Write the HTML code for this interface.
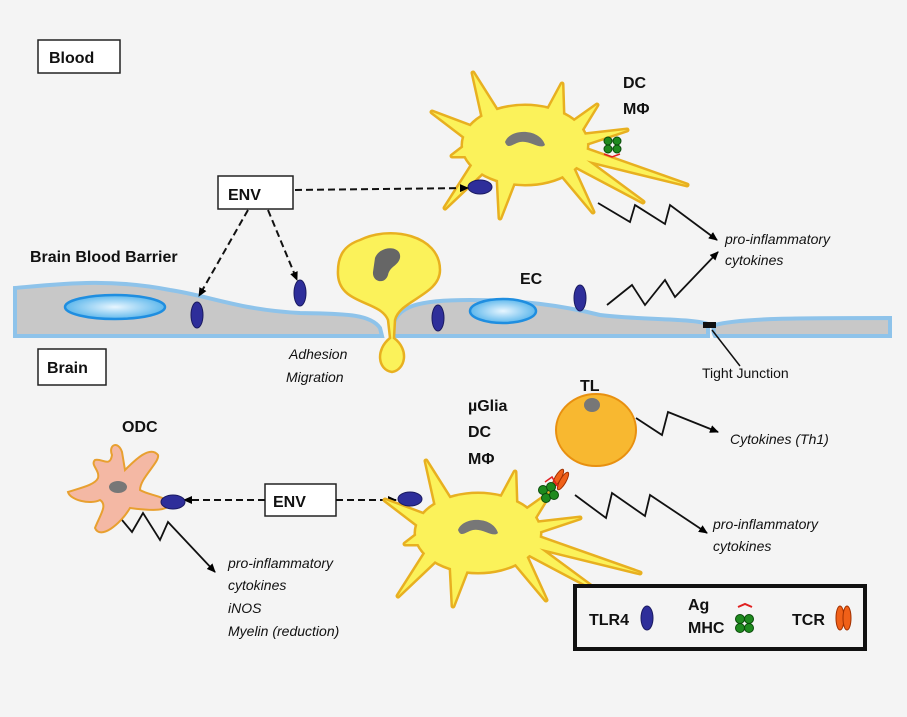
<!DOCTYPE html>
<html><head><meta charset="utf-8"><style>
body{margin:0;background:#f4f4f4}
svg{display:block}
text{font-family:"Liberation Sans",sans-serif;fill:#111}
.b{font-weight:bold;font-size:16px}
.i{font-style:italic;font-size:14px}
</style></head><body>
<svg width="907" height="717" viewBox="0 0 907 717" xmlns="http://www.w3.org/2000/svg">
<defs>
<marker id="a" markerWidth="10" markerHeight="10" refX="8" refY="5" orient="auto" markerUnits="userSpaceOnUse"><path d="M0,1 L9,5 L0,9 Z" fill="#000"/></marker>
<radialGradient id="nb"><stop offset="0" stop-color="#e8f6ff"/><stop offset="1" stop-color="#5fb8ec"/></radialGradient>
<g id="shape">
<ellipse cx="525" cy="145" rx="62" ry="39"/>
<polygon points="432,112 466,138 472,127"/>
<polygon points="473,73 483,118 497,111"/>
<polygon points="562,84 548,110 563,115"/>
<polygon points="597,105 573,122 581,131"/>
<polygon points="627,130 583,135 585,144"/>
<polygon points="687,185 585,149 581,159"/>
<polygon points="643,202 582,157 575,166"/>
<polygon points="593,212 573,168 562,175"/>
<polygon points="500,218 514,182 498,179"/>
<polygon points="445,208 483,172 473,164"/>
<polygon points="452,156 468,156 465,146"/>
</g>
<g id="star">
<use href="#shape" fill="#e8b020" stroke="#e8b020" stroke-width="5" stroke-linejoin="round"/>
<use href="#shape" fill="#fbf25a"/>
<path d="M505,142 C510,128 540,128 545,145 C540,150 530,140 520,142 C512,144 508,150 505,142Z" fill="#777"/>
</g>
</defs>
<rect width="907" height="717" fill="#f4f4f4"/>
<rect x="38" y="40" width="82" height="33" fill="#fff" stroke="#222" stroke-width="1.5"/>
<text x="49" y="63" class="b" font-size="17">Blood</text>
<rect x="38" y="349" width="68" height="36" fill="#fff" stroke="#222" stroke-width="1.5"/>
<text x="47" y="373" class="b" font-size="17">Brain</text>
<rect x="218" y="176" width="75" height="33" fill="#fff" stroke="#222" stroke-width="1.5"/>
<text x="228" y="200" class="b" font-size="18">ENV</text>
<rect x="265" y="484" width="71" height="32" fill="#fff" stroke="#222" stroke-width="1.5"/>
<text x="273" y="507" class="b" font-size="18">ENV</text>
<path d="M15,288 C60,284 110,278 170,290 C210,296 240,310 300,313 C340,314 370,313 380,328 L382,336 L15,336Z" fill="#c8c8c8" stroke="#8ec3ea" stroke-width="4"/>
<path d="M392,330 C395,305 420,300 470,300 C520,300 560,305 600,315 C640,320 690,318 708,324 L708,336 L392,336Z" fill="#c8c8c8" stroke="#8ec3ea" stroke-width="4"/>
<path d="M715,325 C740,318 800,318 890,318 L890,336 L715,336 C713,332 713,328 715,325Z" fill="#c8c8c8" stroke="#8ec3ea" stroke-width="4"/>
<rect x="703" y="322" width="13" height="6" fill="#111"/>
<ellipse cx="115" cy="307" rx="50" ry="12" fill="url(#nb)" stroke="#1f8ee0" stroke-width="2.5"/>
<ellipse cx="503" cy="311" rx="33" ry="12" fill="url(#nb)" stroke="#1f8ee0" stroke-width="2.5"/>
<g fill="#2e2e9a" stroke="#1a1a60">
<ellipse cx="197" cy="315" rx="6" ry="13"/><ellipse cx="300" cy="293" rx="6" ry="13"/>
<ellipse cx="438" cy="318" rx="6" ry="13"/><ellipse cx="580" cy="298" rx="6" ry="13"/>
</g>
<path d="M360,240 C390,225 440,235 440,270 C440,295 400,300 395,320 L394,338 C410,350 405,370 392,372 C378,370 375,350 390,338 L388,320 C380,300 340,305 338,275 C337,255 345,245 360,240Z" fill="#fbf25a" stroke="#e8b020" stroke-width="2.5"/>
<path d="M375,258 C380,245 402,245 400,258 C398,266 390,266 388,275 C385,285 372,282 373,272Z" fill="#666"/>
<text x="30" y="262" class="b">Brain  Blood  Barrier</text>
<text x="520" y="284" class="b">EC</text>
<text x="289" y="359" class="i">Adhesion</text>
<text x="286" y="382" class="i">Migration</text>
<line x1="712" y1="330" x2="740" y2="366" stroke="#111" stroke-width="1.5"/>
<text x="702" y="378" font-size="14">Tight  Junction</text>
<use href="#star"/>
<ellipse cx="480" cy="187" rx="12" ry="7" fill="#2e2e9a" stroke="#1a1a60"/>
<g fill="#1e8a1e" stroke="#0a4a0a"><circle cx="608" cy="141" r="4"/><circle cx="617" cy="141" r="4"/><circle cx="608" cy="149" r="4"/><circle cx="617" cy="149" r="4"/></g>
<path d="M604,154 L612,157 L620,154" fill="none" stroke="#e02020" stroke-width="1.5"/>
<text x="623" y="88" class="b">DC</text>
<text x="623" y="114" class="b">MΦ</text>
<g stroke="#111" stroke-width="2" fill="none" stroke-dasharray="7,4">
<line x1="295" y1="190" x2="468" y2="188" marker-end="url(#a)"/>
<line x1="248" y1="210" x2="199" y2="296" marker-end="url(#a)"/>
<line x1="268" y1="210" x2="297" y2="280" marker-end="url(#a)"/>
<line x1="265" y1="500" x2="184" y2="500" marker-end="url(#a)"/>
<line x1="336" y1="500" x2="396" y2="500" marker-end="url(#a)"/>
</g>
<g stroke="#111" stroke-width="1.8" fill="none">
<polyline points="598,203 630,222 635,205 665,224 670,205 717,240" marker-end="url(#a)"/>
<polyline points="607,305 632,285 645,305 665,280 675,297 718,252" marker-end="url(#a)"/>
<polyline points="636,418 662,435 668,412 718,432" marker-end="url(#a)"/>
<polyline points="575,495 606,518 612,493 645,516 650,495 707,533" marker-end="url(#a)"/>
<polyline points="112,508 132,532 143,513 160,540 168,522 215,572" marker-end="url(#a)"/>
</g>
<text x="725" y="244" class="i">pro-inflammatory</text>
<text x="725" y="265" class="i">cytokines</text>
<text x="730" y="444" class="i">Cytokines  (Th1)</text>
<text x="713" y="529" class="i">pro-inflammatory</text>
<text x="713" y="551" class="i">cytokines</text>
<text x="228" y="568" class="i">pro-inflammatory</text>
<text x="228" y="590" class="i">cytokines</text>
<text x="228" y="613" class="i">iNOS</text>
<text x="228" y="636" class="i">Myelin  (reduction)</text>
<use href="#star" transform="translate(-47,388)"/>
<ellipse cx="410" cy="499" rx="12" ry="7" fill="#2e2e9a" stroke="#1a1a60"/>
<text x="468" y="411" class="b">µGlia</text>
<text x="468" y="437" class="b">DC</text>
<text x="468" y="464" class="b">MΦ</text>
<ellipse cx="596" cy="430" rx="40" ry="36" fill="#f8b830" stroke="#e89010" stroke-width="2"/>
<ellipse cx="592" cy="405" rx="8" ry="7" fill="#777"/>
<text x="580" y="391" class="b">TL</text>
<g fill="#f06018" stroke="#a03000"><ellipse cx="558" cy="478" rx="3" ry="10" transform="rotate(30 558 478)"/><ellipse cx="563" cy="481" rx="3" ry="10" transform="rotate(30 563 481)"/></g>
<path d="M545,482 L552,477 L558,487" fill="none" stroke="#e02020" stroke-width="1.5"/>
<g fill="#1e8a1e" stroke="#0a4a0a"><circle cx="543" cy="490" r="4.5"/><circle cx="551" cy="487" r="4.5"/><circle cx="546" cy="498" r="4.5"/><circle cx="554" cy="495" r="4.5"/></g>
<path d="M112,455 C108,445 118,440 122,452 L125,470 C135,460 150,445 158,455 C160,462 140,478 140,490 C150,496 165,495 170,505 C165,512 145,510 130,508 C120,525 100,540 95,528 C100,515 108,505 100,500 C90,505 70,500 68,492 C80,488 95,485 98,478 C100,470 90,465 95,460 C102,458 110,468 112,455Z" fill="#f4b8a4" stroke="#e8a030" stroke-width="2"/>
<ellipse cx="118" cy="487" rx="9" ry="6" fill="#777"/>
<ellipse cx="173" cy="502" rx="12" ry="7" fill="#2e2e9a" stroke="#1a1a60"/>
<text x="122" y="432" class="b">ODC</text>
<rect x="575" y="586" width="290" height="63" fill="#f4f4f4" stroke="#111" stroke-width="4"/>
<text x="589" y="625" class="b">TLR4</text>
<ellipse cx="647" cy="618" rx="6" ry="12" fill="#2e2e9a" stroke="#1a1a60"/>
<text x="688" y="610" class="b">Ag</text>
<text x="688" y="633" class="b">MHC</text>
<path d="M738,607 L745,604 L752,607" fill="none" stroke="#e02020" stroke-width="2"/>
<g fill="#1e8a1e" stroke="#0a4a0a"><circle cx="740" cy="619" r="4.5"/><circle cx="749" cy="619" r="4.5"/><circle cx="740" cy="628" r="4.5"/><circle cx="749" cy="628" r="4.5"/></g>
<text x="792" y="625" class="b">TCR</text>
<g fill="#f06018" stroke="#a03000"><ellipse cx="840" cy="618" rx="4" ry="12"/><ellipse cx="847" cy="618" rx="4" ry="12"/></g>
</svg>
</body></html>
